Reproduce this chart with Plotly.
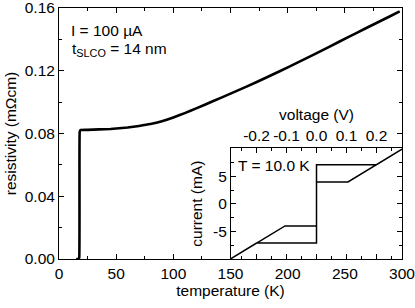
import plotly.graph_objects as go

# Main curve: resistivity vs temperature
temperature = [15, 17, 17.7, 18.1, 18.8, 25, 35, 45, 50, 60, 70, 80, 90, 100, 110, 120,
               135, 150, 164, 180, 193, 209, 225, 245, 260, 275, 290, 298]
resistivity = [0, 0, 0.001, 0.081, 0.0822, 0.0823, 0.0826, 0.0829, 0.0832, 0.0838, 0.0848,
               0.0860, 0.0878, 0.0902, 0.0930, 0.0960, 0.1007, 0.1054, 0.1099, 0.1152,
               0.1197, 0.1253, 0.1311, 0.1385, 0.1440, 0.1495, 0.1549, 0.1578]

# Inset: current vs voltage hysteresis loop
voltage = [-0.29, -0.2, 0, 0, 0.2, 0.29, 0.105, 0, 0, -0.105, -0.29]
current = [-10.1, -7.1, -7.1, 7.1, 7.1, 10.1, 4.0, 4.0, -4.0, -4.0, -10.1]

x_ticks = [0, 50, 100, 150, 200, 250, 300]
y_ticks = [0.00, 0.04, 0.08, 0.12, 0.16]
v_ticks = [-0.2, -0.1, 0.0, 0.1, 0.2]
v_ticktext = ["-0.2", "-0.1", "0.0", "0.1", "0.2"]
i_ticks = [-5, 0, 5]
i_ticktext = ["-5", "0", "5"]

FONT = "Liberation Sans, Arial, sans-serif"
FS = 15.5

fig = go.Figure()
fig.add_trace(go.Scatter(x=temperature, y=resistivity, mode="lines",
                         line=dict(color="black", width=2.6, shape="spline", smoothing=0.3),
                         xaxis="x", yaxis="y", showlegend=False))
fig.add_trace(go.Scatter(x=voltage, y=current, mode="lines",
                         line=dict(color="black", width=1.5), xaxis="x2", yaxis="y2",
                         showlegend=False))

axis_common = dict(showline=True, linecolor="black", linewidth=1, mirror="ticks",
                   ticks="inside", ticklen=5, tickwidth=1, tickcolor="black",
                   showgrid=False, zeroline=False, automargin=False,
                   ticklabeloverflow="allow",
                   tickfont=dict(family=FONT, size=FS, color="black"))

fig.update_layout(
    width=415, height=308,
    margin=dict(l=59, r=13, t=8, b=49),
    paper_bgcolor="white", plot_bgcolor="white",
    font=dict(family=FONT, size=FS, color="black"),
    xaxis=dict(range=[0, 300], tickvals=x_ticks, domain=[0, 1],
               minor=dict(ticks="inside", ticklen=3, dtick=25, tick0=0, tickcolor="black"),
               title=dict(text="temperature (K)", font=dict(size=FS), standoff=2),
               **axis_common),
    yaxis=dict(range=[0, 0.16], tickvals=y_ticks, tickformat=".2f", domain=[0, 1],
               minor=dict(ticks="inside", ticklen=3, dtick=0.02, tick0=0, tickcolor="black"),
               title=dict(text="resistivity (mΩcm)", font=dict(size=FS), standoff=4),
               **axis_common),
    xaxis2=dict(range=[-0.285, 0.285], tickvals=v_ticks, ticktext=v_ticktext,
                domain=[0.5015, 1], anchor="y2", side="top",
                minor=dict(ticks="inside", ticklen=3, dtick=0.05, tick0=0, tickcolor="black"),
                title=dict(text="voltage (V)", font=dict(size=FS), standoff=2),
                **axis_common),
    yaxis2=dict(range=[-10, 10.1], tickvals=i_ticks, ticktext=i_ticktext,
                domain=[0, 0.441], anchor="x2",
                minor=dict(ticks="inside", ticklen=3, dtick=2.5, tick0=0, tickcolor="black"),
                title=dict(text="current (mA)", font=dict(size=FS), standoff=6),
                **axis_common),
)

fig.add_annotation(text="I = 100 µA", xref="paper", yref="paper",
                   x=(69 - 59) / 343, y=(259 - 30) / 251, xanchor="left", yanchor="middle",
                   showarrow=False, font=dict(size=15.5))
fig.add_annotation(text="t<sub>SLCO</sub> = 14 nm", xref="paper", yref="paper",
                   x=(70 - 59) / 343, y=(259 - 50) / 251, xanchor="left", yanchor="middle",
                   showarrow=False, font=dict(size=15.5))
fig.add_annotation(text="T = 10.0 K", xref="paper", yref="paper",
                   x=(236 - 59) / 343, y=(259 - 165) / 251, xanchor="left", yanchor="middle",
                   showarrow=False, font=dict(size=15.5))

fig.write_html("out.html", config={"displayModeBar": False},
               post_script="document.body.style.margin='0';")
